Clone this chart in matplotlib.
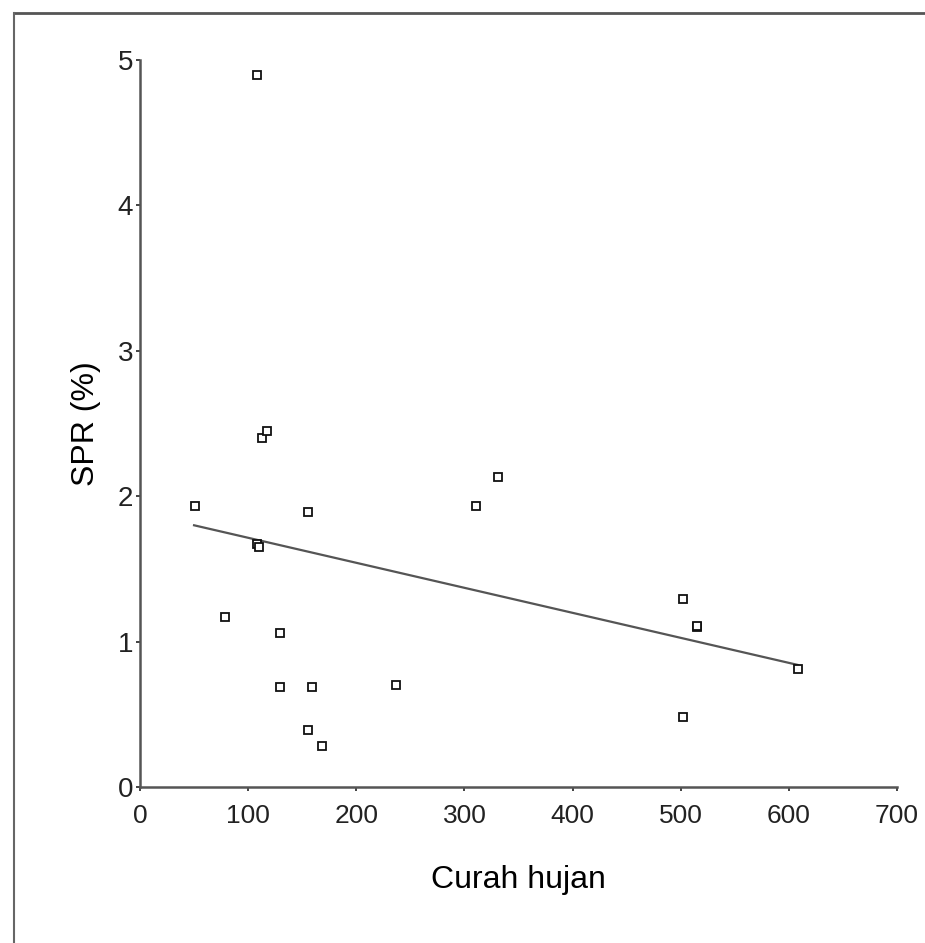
import matplotlib
matplotlib.use("Agg")
import matplotlib.pyplot as plt
from matplotlib.lines import Line2D
import numpy as np

# Data
curah_hujan = [108, 51, 113, 117, 155, 108, 110, 79, 129, 129, 159, 237,
               155, 168, 311, 331, 502, 515, 515, 608, 502]
spr = [4.90, 1.93, 2.40, 2.45, 1.89, 1.67, 1.65, 1.17, 1.06, 0.69, 0.69, 0.70,
       0.39, 0.28, 1.93, 2.13, 1.29, 1.10, 1.11, 0.81, 0.48]

# Fitted regression line (as drawn)
fit_x = [50, 608]
fit_y = [1.80, 0.84]

x_ticks = [0, 100, 200, 300, 400, 500, 600, 700]
y_ticks = [0, 1, 2, 3, 4, 5]

FONT = ['Liberation Sans Narrow', 'Liberation Sans', 'DejaVu Sans']
plt.rcParams['font.family'] = FONT

fig = plt.figure(figsize=(9.25, 9.43), dpi=100)
ax = fig.add_axes([140/925, 1-787/943, (897-140)/925, (787-60)/943])

ax.plot(fit_x, fit_y, color='#555555', lw=1.6, zorder=2)
ax.plot(curah_hujan, spr, linestyle='none', marker='s', markersize=5.5,
        markerfacecolor='white', markeredgecolor='#111111', markeredgewidth=1.3,
        zorder=3, clip_on=False)

ax.set_xlim(0, 700)
ax.set_ylim(0, 5)
ax.set_xticks(x_ticks)
ax.set_yticks(y_ticks)
ax.set_xticklabels([str(v) for v in x_ticks], fontsize=19)
ax.set_yticklabels([str(v) for v in y_ticks], fontsize=20)
ax.tick_params(axis='both', direction='out', length=3, width=1.2, colors='#222222')
ax.tick_params(axis='x', pad=9)
ax.tick_params(axis='y', pad=2)
for s in ['top', 'right']:
    ax.spines[s].set_visible(False)
for s in ['left', 'bottom']:
    ax.spines[s].set_color('#555555')
    ax.spines[s].set_linewidth(1.8)

ax.set_ylabel('SPR (%)', fontsize=23, labelpad=12)
fig.text(518/925, 1-880/943, 'Curah hujan', fontsize=23, ha='center', va='center')

# outer frame lines
fig.add_artist(Line2D([14/925, 1.0], [1-13/943, 1-13/943], transform=fig.transFigure,
                      color='#555555', lw=2))
fig.add_artist(Line2D([14/925, 14/925], [0, 1-13/943], transform=fig.transFigure,
                      color='#666666', lw=1.5))

fig.savefig('out.png', dpi=100, facecolor='white')
